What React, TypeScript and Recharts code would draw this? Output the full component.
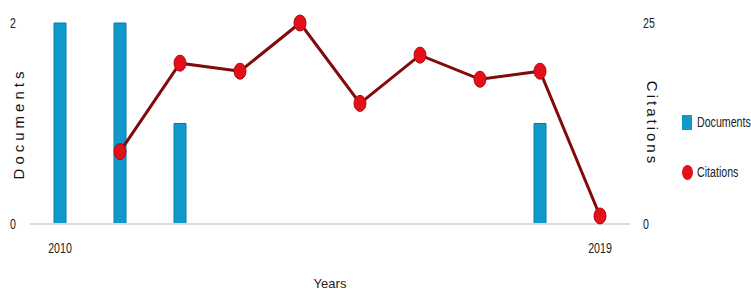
import React from "react";
import { Bar, ComposedChart, Legend, Line, XAxis, YAxis } from "recharts";

const years = [2010, 2011, 2012, 2013, 2014, 2015, 2016, 2017, 2018, 2019];
const documents = [2, 2, 1, 0, 0, 0, 0, 0, 1, 0];
const citations = [null, 9, 20, 19, 25, 15, 21, 18, 19, 1];
const xTicks = [2010, 2019];
const docTicks = [0, 2];
const citeTicks = [0, 25];

const data = years.map((year, i) => ({
  year,
  Documents: documents[i],
  Citations: citations[i],
}));

const FONT = "'Liberation Sans', Arial, sans-serif";
const BAR = "#0f9acb";
const LINE = "#820a0a";
const DOT = "#e3101a";

// narrow-looking tick text, like the squeezed original
function NarrowTick(props: any) {
  const { x, y, payload, textAnchor } = props;
  return (
    <g transform={`translate(${x},${y}) scale(0.76,1.1)`}>
      <text x={0} y={0} dy="0.355em" textAnchor={textAnchor} fill="#222" fontSize={14} fontFamily={FONT}>
        {payload.value}
      </text>
    </g>
  );
}

function Dot(props: any) {
  const { cx, cy } = props;
  if (cx == null || cy == null) return null;
  return <ellipse cx={cx} cy={cy} rx={6} ry={8} fill={DOT} stroke="#b0080e" strokeWidth={1} />;
}

function LegendBox() {
  const txt = { display: "inline-block", transform: "scale(0.76,1.1)", transformOrigin: "left center" };
  return (
    <div style={{ fontFamily: FONT, fontSize: 14, color: "#222", whiteSpace: "nowrap" }}>
      <div style={{ display: "flex", alignItems: "center", height: 20 }}>
        <span style={{ width: 10, height: 15, flexShrink: 0, background: BAR, marginRight: 5, display: "inline-block" }} />
        <span style={txt}>Documents</span>
      </div>
      <div style={{ display: "flex", alignItems: "center", height: 20, marginTop: 30 }}>
        <span style={{ width: 11, height: 15, flexShrink: 0, borderRadius: "50%", background: DOT, marginRight: 4, display: "inline-block" }} />
        <span style={txt}>Citations</span>
      </div>
    </div>
  );
}

export default function App() {
  return (
    <div style={{ position: "absolute", left: 0, top: 0, background: "#fff" }}>
      <ComposedChart
        width={751}
        height={296}
        data={data}
        margin={{ top: 23, right: 71, bottom: 0, left: 0 }}
      >
        <XAxis
          dataKey="year"
          type="number"
          domain={[2010, 2019]}
          ticks={xTicks}
          padding={{ left: 30, right: 30 }}
          height={72}
          stroke="#d5dbe0"
          strokeWidth={2}
          tickLine={false}
          tickMargin={18}
          tick={<NarrowTick />}
          label={{ value: "Years", position: "insideBottom", offset: 8, fill: "#222", fontSize: 13, fontFamily: FONT }}
        />
        <YAxis
          yAxisId="docs"
          domain={[0, 2]}
          ticks={docTicks}
          width={30}
          axisLine={false}
          tickLine={false}
          tickSize={0}
          tickMargin={14}
          tick={<NarrowTick />}
          label={{ value: "Documents", angle: -90, position: "insideLeft", offset: 19, fill: "#111", fontSize: 15, letterSpacing: 4, fontFamily: FONT, style: { textAnchor: "middle" } }}
        />
        <YAxis
          yAxisId="cites"
          orientation="right"
          domain={[0, 25]}
          ticks={citeTicks}
          width={50}
          axisLine={false}
          tickLine={false}
          tickSize={0}
          tickMargin={13}
          tick={<NarrowTick />}
          label={{ value: "Citations", angle: 90, position: "insideLeft", offset: 22, fill: "#111", fontSize: 15, letterSpacing: 3, fontFamily: FONT, style: { textAnchor: "middle" } }}
        />
        <Legend
          layout="vertical"
          align="center"
          verticalAlign="middle"
          content={() => <LegendBox />}
          wrapperStyle={{ left: 682, top: 112, width: 100 }}
        />
        <Bar
          yAxisId="docs"
          dataKey="Documents"
          fill={BAR}
          stroke="#0a7aa6"
          strokeWidth={1}
          barSize={12}
          isAnimationActive={false}
        />
        <Line
          yAxisId="cites"
          dataKey="Citations"
          stroke={LINE}
          strokeWidth={3}
          dot={<Dot />}
          activeDot={false}
          isAnimationActive={false}
        />
      </ComposedChart>
    </div>
  );
}
